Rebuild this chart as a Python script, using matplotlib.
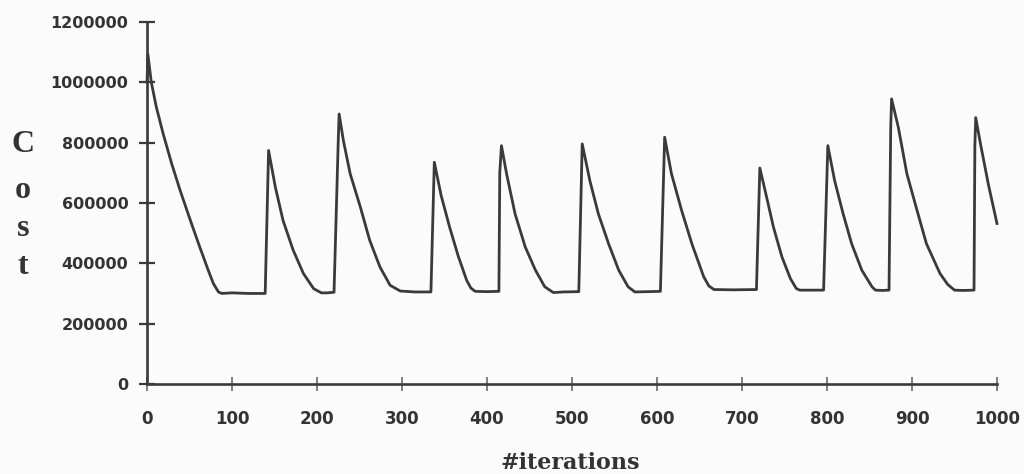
import matplotlib
matplotlib.use("Agg")
import matplotlib.pyplot as plt

# Cost per iteration (x = iteration, y = cost in thousands)
iterations = [
    0, 1, 5, 11, 19, 29, 39, 51, 62, 72, 78, 84, 88,
    100, 120, 139,
    143, 151, 160, 172, 184, 196, 205,
    212, 220,
    225, 226, 231, 239, 251, 262, 274, 286, 298,
    315, 334,
    338, 346, 356, 366, 376, 381, 386,
    400, 414,
    415, 417, 423, 433, 445, 457, 468, 478,
    490, 508,
    512, 521, 531, 543, 555, 566, 574,
    590, 604,
    609, 617, 629, 641, 655, 661, 667,
    690, 717,
    721, 729, 737, 747, 757, 764, 768,
    780, 796,
    801, 809, 819, 829, 841, 853, 857,
    865, 873,
    875, 876, 884, 894, 906, 917, 933, 942, 950,
    960, 973,
    974, 975, 981, 990, 1000,
]
cost_k = [
    1000, 1093, 1000, 917, 829, 730, 641, 542, 454, 377, 333, 305, 300,
    302, 300, 300,
    774, 652, 542, 443, 366, 316, 302,
    302, 304,
    810, 895, 807, 697, 586, 476, 388, 327, 308,
    305, 305,
    735, 625, 520, 425, 344, 318, 307,
    306, 307,
    700, 790, 697, 564, 454, 377, 322, 303,
    305, 306,
    796, 674, 564, 465, 377, 322, 305,
    306, 307,
    818, 697, 575, 465, 355, 325, 313,
    312, 313,
    716, 619, 520, 421, 349, 316, 311,
    311, 311,
    790, 674, 564, 465, 377, 322, 311,
    310, 311,
    850, 945, 850, 697, 575, 465, 366, 330, 311,
    310, 311,
    790, 883, 790, 660, 532,
]
cost = [c * 1000 for c in cost_k]

x_ticks = [0, 100, 200, 300, 400, 500, 600, 700, 800, 900, 1000]
y_ticks = [0, 200000, 400000, 600000, 800000, 1000000, 1200000]

ink = "#3a3a3a"
bg = "#fbfbfc"


def main():
    fig = plt.figure(figsize=(10.24, 4.74), dpi=100, facecolor=bg)
    ax = fig.add_axes([0.1436, 0.19, 0.83, 0.7636], facecolor=bg)

    ax.plot(iterations, cost, color=ink, linewidth=2.0, clip_on=False)

    ax.set_xlim(0, 1000)
    ax.set_ylim(0, 1200000)
    ax.set_xticks(x_ticks)
    ax.set_yticks(y_ticks)
    ax.set_xticklabels([str(v) for v in x_ticks])
    ax.set_yticklabels([str(v) for v in y_ticks])

    for side in ("top", "right"):
        ax.spines[side].set_visible(False)
    for side in ("left", "bottom"):
        ax.spines[side].set_color(ink)
        ax.spines[side].set_linewidth(1.9)

    ax.tick_params(axis="y", direction="inout", length=11, width=1.6,
                   color=ink, pad=8, labelsize=11.5, labelcolor="#333333")
    ax.tick_params(axis="x", direction="inout", length=10, width=1.2,
                   color="#6a6a6a", pad=14, labelsize=12, labelcolor="#333333")
    for lab in ax.get_xticklabels() + ax.get_yticklabels():
        lab.set_fontweight("bold")
        lab.set_fontfamily("DejaVu Sans")

    # stacked axis title on the left
    for letter, ypix in zip("Cost", [144, 190, 229, 267]):
        fig.text(23 / 1024, 1 - ypix / 474, letter, ha="center", va="center",
                 fontsize=23, fontweight="bold", family="Liberation Serif",
                 color="#333333")

    fig.text(570 / 1024, 1 - 463 / 474, "#iterations", ha="center", va="center",
             fontsize=16, fontweight="bold", family="DejaVu Serif",
             color="#333333")

    fig.savefig("out.png", dpi=100, facecolor=bg)


if __name__ == "__main__":
    main()
